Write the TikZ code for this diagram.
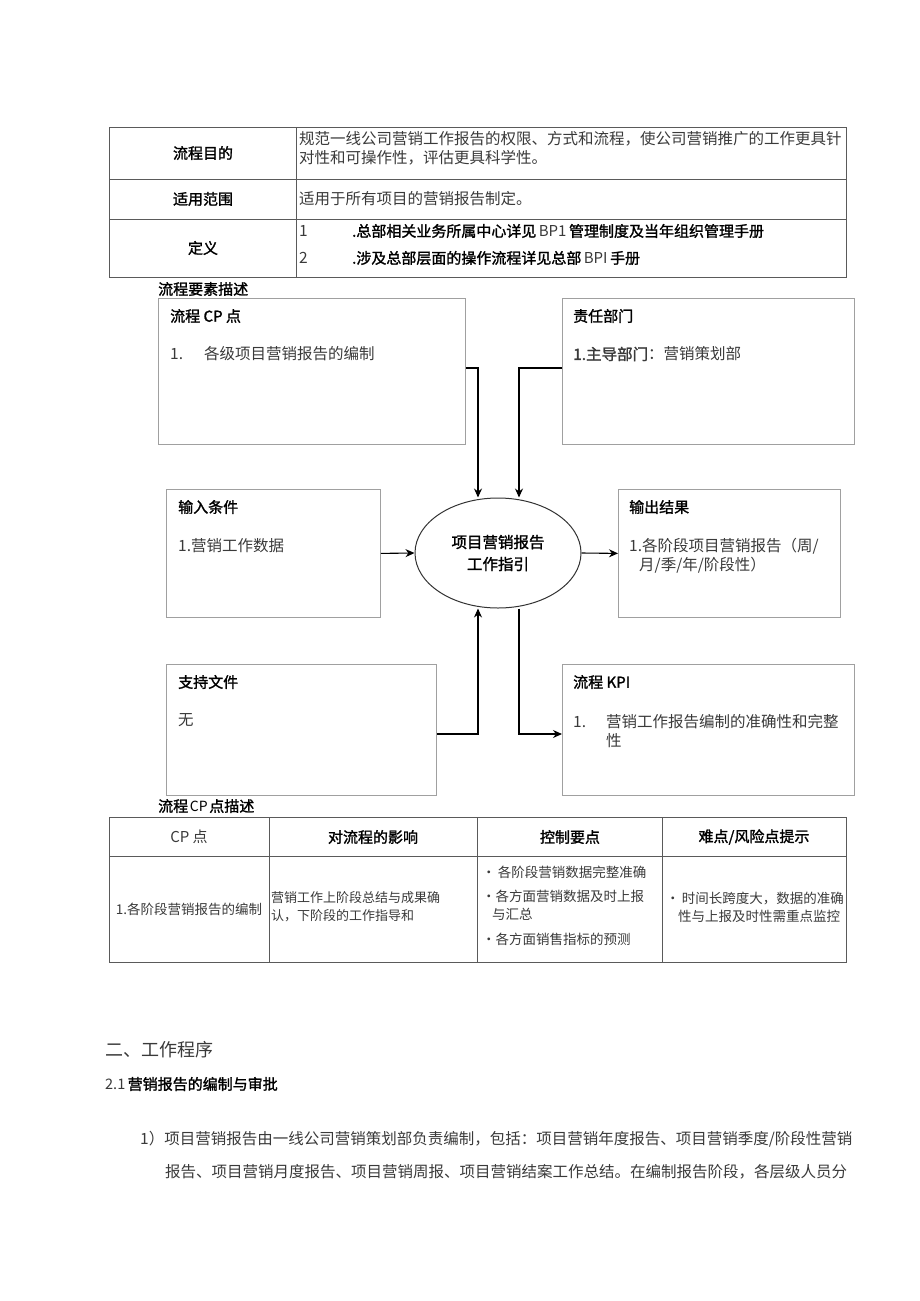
\documentclass[tikz,border=0pt]{standalone}
\usepackage{fontspec}
\setmainfont{Noto Sans CJK SC}
\newfontfamily\hei[FakeBold=1.5]{Noto Sans CJK SC}
\usepackage{tikz}
\usepackage{color}
\usetikzlibrary{arrows,arrows.meta}
\usetikzlibrary{shapes.geometric}
\definecolor{txtgray}{HTML}{3A3A3A}
\definecolor{boxgray}{HTML}{A0A0A0}
\definecolor{tabgray}{HTML}{5A5A5A}

\begin{document}
\begin{tikzpicture}[x=1pt,y=-1pt,
		txt/.style={anchor=west,inner sep=0pt,align=left,text=txtgray,font=\fontsize{15.5}{19}\selectfont},
		sml/.style={anchor=west,inner sep=0pt,align=left,text=txtgray,font=\fontsize{13.5}{18}\selectfont},
		hd/.style={inner sep=0pt,font=\hei\fontsize{15}{19}\selectfont},
		elbox/.style={draw=boxgray,line width=0.8pt,anchor=north west,inner sep=0pt},
		tab/.style={draw=tabgray,line width=1pt},
		flow/.style={-{Stealth[length=9pt,width=8pt]},line width=1.1pt}]
			\fill[white] (0,0) rectangle (920,1301);
			\useasboundingbox (0,0) rectangle (920,1301);
			
			% top table
			\draw[tab] (109,127) rectangle (846,277);
			\draw[tab] (109,179) -- (846,179);
			\draw[tab] (109,219) -- (846,219);
			\draw[tab] (296,127) -- (296,277);
			\node[hd] (aim) at (203,153) {流程目的};
			\node[hd] (scope) at (203,199) {适用范围};
			\node[hd] (defn) at (203,248) {定义};
			\node[txt] (aimtx) at (299,148.5) {规范一线公司营销工作报告的权限、方式和流程，使公司营销推广的工作更具针\\对性和可操作性，评估更具科学性。};
			\node[txt] (scopetx) at (299,199) {适用于所有项目的营销报告制定。};
			\node[txt] (defa) at (299,231) {1};
			\node[hd,anchor=west] (defatx) at (352,231) {.总部相关业务所属中心详见\,{\fontspec{Noto Sans CJK SC}\color{txtgray}BP1}\,管理制度及当年组织管理手册};
			\node[txt] (defb) at (299,258) {2};
			\node[hd,anchor=west] (defbtx) at (352,258) {.涉及总部层面的操作流程详见总部\,{\fontspec{Noto Sans CJK SC}\color{txtgray}BPI}\,手册};
			
			% elements
			\node[hd,anchor=west] (elems) at (158,289) {流程要素描述};
			\node[elbox,minimum width=307pt,minimum height=146pt] (cp) at (158,298) {};
			\node[elbox,minimum width=292pt,minimum height=146pt] (duty) at (562,298) {};
			\node[elbox,minimum width=214pt,minimum height=128pt] (input) at (166,489) {};
			\node[elbox,minimum width=222pt,minimum height=128pt] (output) at (618,489) {};
			\node[elbox,minimum width=270pt,minimum height=131pt] (support) at (166,664) {};
			\node[elbox,minimum width=292pt,minimum height=131pt] (kpi) at (562,664) {};
			\node[ellipse,draw=black!80,line width=1pt,minimum width=166pt,minimum height=110pt,align=center,font=\hei\fontsize{15.5}{22}\selectfont] (ell) at (498,553) {项目营销报告\\工作指引};
			
			\node[hd,anchor=west] (cptitle) at ([xshift=12pt,yshift=-18pt]cp.north west) {流程 CP 点};
			\node[txt] (cpitem) at ([xshift=12pt,yshift=-56pt]cp.north west) {\makebox[34pt][l]{1.}各级项目营销报告的编制};
			\node[hd,anchor=west] (dutytitle) at ([xshift=11pt,yshift=-18pt]duty.north west) {责任部门};
			\node[txt] (dutyitem) at ([xshift=11pt,yshift=-56pt]duty.north west) {{\hei 1.主导部门}：营销策划部};
			\node[hd,anchor=west] (intitle) at ([xshift=12pt,yshift=-18pt]input.north west) {输入条件};
			\node[txt] (initem) at ([xshift=12pt,yshift=-57pt]input.north west) {1.营销工作数据};
			\node[hd,anchor=west] (outtitle) at ([xshift=11pt,yshift=-18pt]output.north west) {输出结果};
			\node[txt] (outitem) at ([xshift=11pt,yshift=-67pt]output.north west) {1.各阶段项目营销报告（周/\\\hspace{10pt}月/季/年/阶段性）};
			\node[hd,anchor=west] (suptitle) at ([xshift=12pt,yshift=-18pt]support.north west) {支持文件};
			\node[txt] (supitem) at ([xshift=12pt,yshift=-56pt]support.north west) {无};
			\node[hd,anchor=west] (kpititle) at ([xshift=11pt,yshift=-18pt]kpi.north west) {流程 KPI};
			\node[txt] (kpiitem) at ([xshift=11pt,yshift=-67pt]kpi.north west) {\makebox[33pt][l]{1.}营销工作报告编制的准确性和完整\\\hspace{33pt}性};
			
			\draw[flow] (cp.east |- 0,368) -| ([xshift=-20pt]ell.north);
			\draw[flow] (duty.west |- 0,368) -| ([xshift=21pt]ell.north);
			\draw[flow] (input.east) -- (ell.west);
			\draw[flow] (ell.east) -- (output.west);
			\draw[flow] (support.east |- 0,734) -| ([xshift=-20pt]ell.south);
			\draw[flow] ([xshift=21pt]ell.south) |- (kpi.west |- 0,734);
			
			% cp table
			\node[anchor=west,inner sep=0pt] (cpdesc) at (158,806) {{\hei\fontsize{15}{19}\selectfont 流程}\,{\fontsize{14}{19}\selectfont CP}\,{\hei\fontsize{15}{19}\selectfont 点描述}};
			\draw[tab] (109,817) rectangle (846,962);
			\draw[tab] (109,856) -- (846,856);
			\foreach \x in {269,477,662}
				\draw[tab] (\x,817) -- (\x,962);
			\node[inner sep=0pt,text=txtgray,font=\fontsize{15}{19}\selectfont] (hcp) at (189,837) {CP 点};
			\node[hd] (heff) at (373,837) {对流程的影响};
			\node[hd] (hctl) at (570,837) {控制要点};
			\node[hd] (hrisk) at (754,837) {难点/风险点提示};
			\node[sml,anchor=center] (cpname) at (189,909) {1.各阶段营销报告的编制};
			\node[sml,font=\fontsize{13}{18}\selectfont] (eff) at (271,907) {营销工作上阶段总结与成果确\\认，下阶段的工作指导和};
			\node[sml] (ctla) at (482,872) {·\,各阶段营销数据完整准确};
			\node[sml] (ctlb) at (482,905.5) {•各方面营销数据及时上报\\\hspace{10pt}与汇总};
			\node[sml] (ctlc) at (482,939) {•各方面销售指标的预测};
			\node[sml] (risk) at (666,907) {·\,时间长跨度大，数据的准确\\\hspace{12pt}性与上报及时性需重点监控};
			
			% procedure text
			\node[anchor=west,inner sep=0pt,text=txtgray,font=\fontsize{18}{22}\selectfont] (sec) at (105,1050) {二、工作程序};
			\node[anchor=west,inner sep=0pt] (subsec) at (105,1084) {{\color{txtgray}\fontsize{14.5}{19}\selectfont 2.1\,}{\hei\fontsize{15}{19}\selectfont 营销报告的编制与审批}};
			\node[anchor=west,inner sep=0pt,text=txtgray,font=\fontsize{15.5}{20}\selectfont] (para) at (140,1139) {1）项目营销报告由一线公司营销策划部负责编制，包括：项目营销年度报告、项目营销季度/阶段性营销};
			\node[anchor=west,inner sep=0pt,text=txtgray,font=\fontsize{15.5}{20}\selectfont] (parb) at (165,1172) {报告、项目营销月度报告、项目营销周报、项目营销结案工作总结。在编制报告阶段，各层级人员分};
			
		\end{tikzpicture}
\end{document}
